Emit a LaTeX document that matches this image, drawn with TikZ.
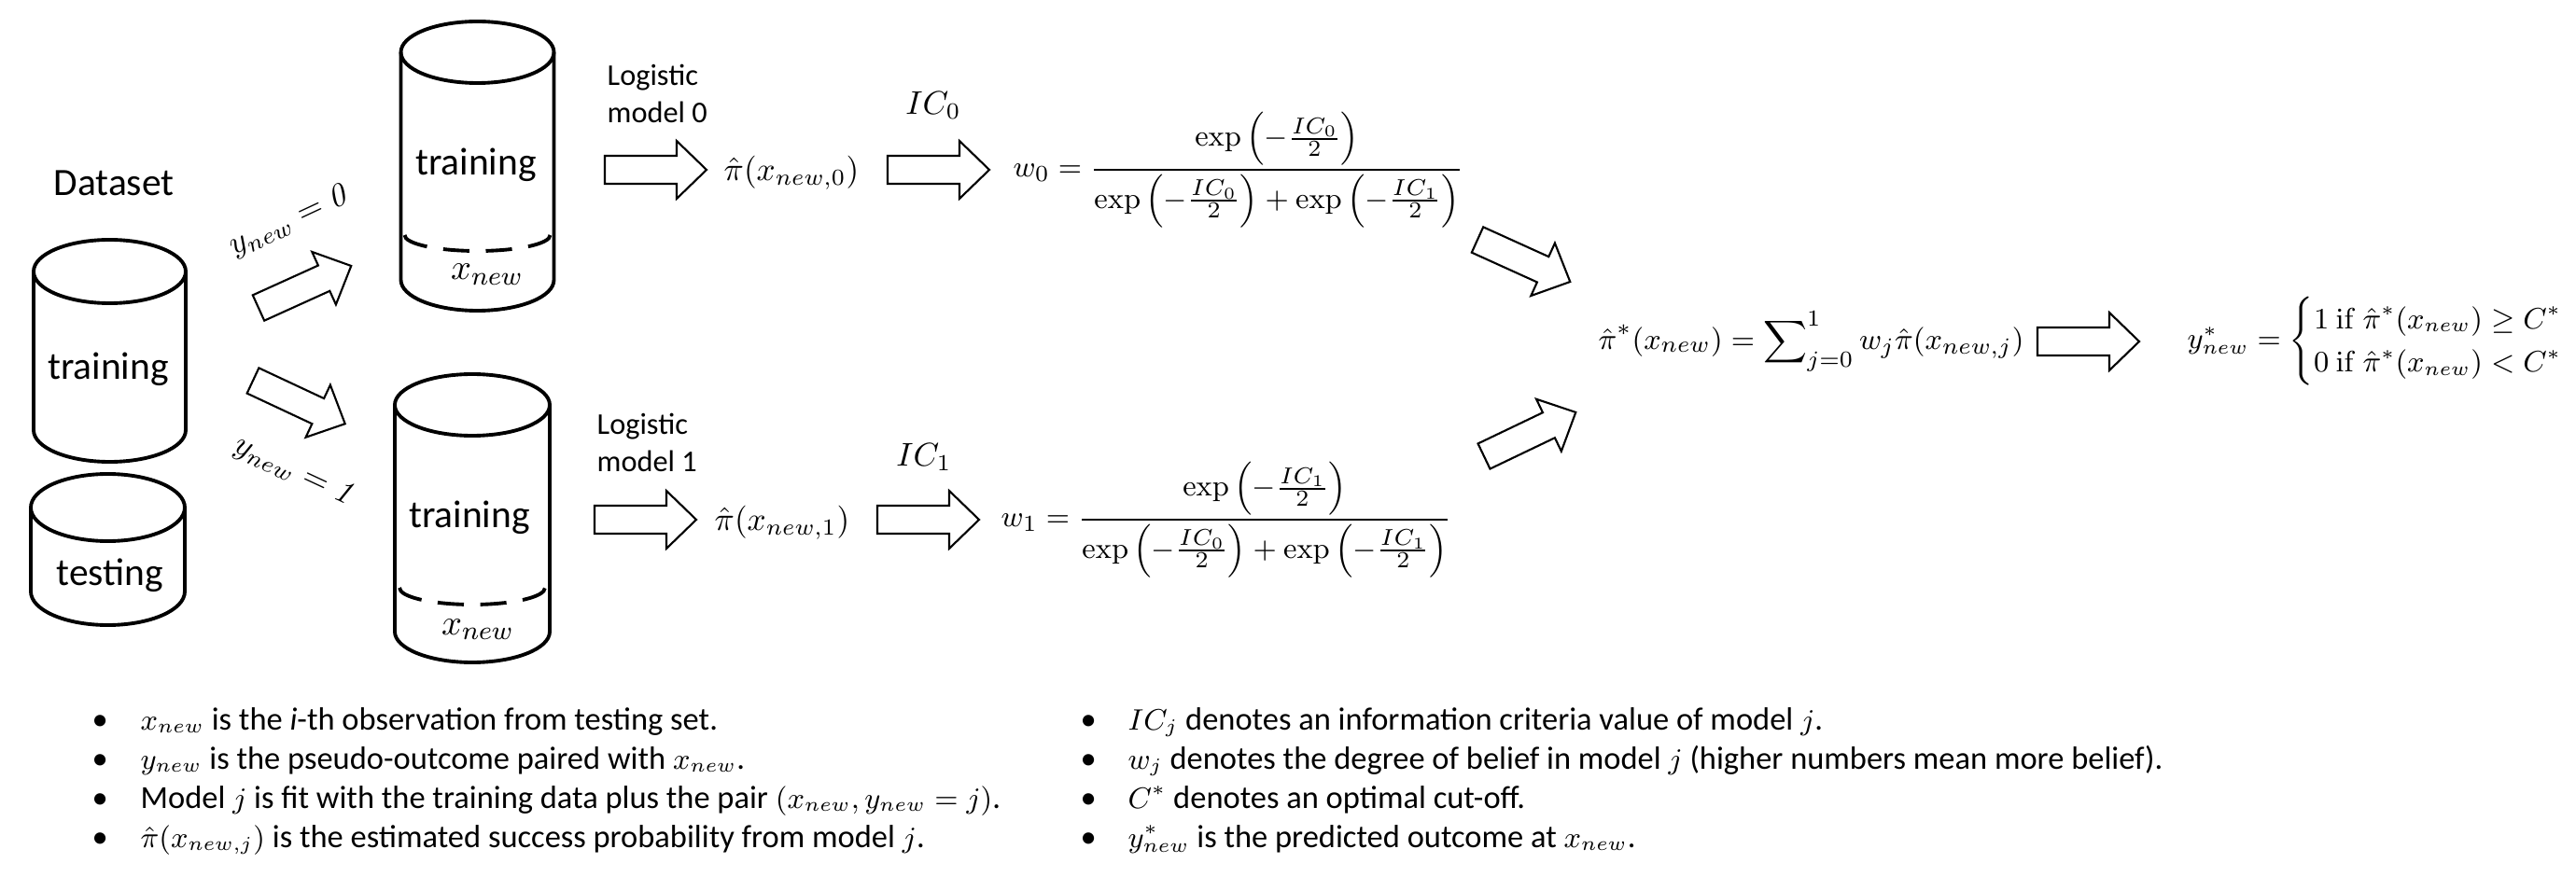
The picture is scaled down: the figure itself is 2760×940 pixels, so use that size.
\documentclass[tikz,border=0pt]{standalone}
\usepackage{amsmath}
\usepackage[no-math]{fontspec}
\setmainfont{Carlito}
\newcommand\mth[1]{{\fontsize{8.6}{10}\selectfont$#1$}}
\begin{document}
\begin{tikzpicture}[x=0.01cm,y=-0.01cm,
  cylline/.style={line width=1.1pt},
  dashline/.style={line width=1.1pt, dash pattern=on 8pt off 5pt},
  arrline/.style={line width=0.6pt, line join=miter},
  big/.style={font=\fontsize{11.8}{14}\selectfont, inner sep=0pt},
  small/.style={font=\fontsize{9.2}{11.4}\selectfont, inner sep=0pt, anchor=base west},
  fml/.style={font=\fontsize{10}{12}\selectfont, inner sep=0pt},
  bul/.style={font=\fontsize{9.8}{11}\selectfont, inner sep=0pt, anchor=base west},
  blockarrow/.pic={\draw[arrline] (0,-15) -- (77,-15) -- (77,-31) -- (109,0) -- (77,31) -- (77,15) -- (0,15) -- cycle;}
]
\useasboundingbox (0,0) rectangle (2760,940);

% ---------- cylinders ----------
% dataset training
\draw[cylline] (117.5,291) ellipse [x radius=81.5, y radius=34];
\draw[cylline] (36,291) -- (36,461) arc[start angle=180, end angle=0, x radius=81.5, y radius=34] -- (199,291);
% dataset testing
\draw[cylline] (115.5,544) ellipse [x radius=82.5, y radius=36];
\draw[cylline] (33,544) -- (33,634) arc[start angle=180, end angle=0, x radius=82.5, y radius=36] -- (198,544);
% model 0 data
\draw[cylline] (511.5,56) ellipse [x radius=82, y radius=33];
\draw[cylline] (429.5,56) -- (429.5,300) arc[start angle=180, end angle=0, x radius=82, y radius=33] -- (593.5,56);
\draw[dashline] (433.5,252) arc[start angle=180, end angle=0, x radius=78, y radius=17];
% model 1 data
\draw[cylline] (506,434) ellipse [x radius=83, y radius=33];
\draw[cylline] (423,434) -- (423,677) arc[start angle=180, end angle=0, x radius=83, y radius=33] -- (589,434);
\draw[dashline] (428,630) arc[start angle=180, end angle=0, x radius=78, y radius=18];

% ---------- texts ----------
\node[big, anchor=base] (dataset) at (122,210) {Dataset};
\node[big, anchor=base] (tr) at (116,407) {training};
\node[big, anchor=base] (te) at (118,627) {testing};
\node[big, anchor=base] (tr0) at (510,188) {training};
\node[fml, anchor=base, font=\fontsize{11}{13}\selectfont] (xn0) at (522,300) {$x_{new}$};
\node[big, anchor=base] (tr1) at (503,565) {training};
\node[fml, anchor=base, font=\fontsize{11}{13}\selectfont] (xn1) at (512,680) {$x_{new}$};

\node[fml, rotate=25] (y0) at (311,237) {$y_{new}=\mathit{0}$};
\node[fml, rotate=-25] (y1) at (316,506) {$y_{new}=\mathit{1}$};

\node[small] (lm0a) at (650,92) {Logistic};
\node[small] (lm0b) at (650,132) {model 0};
\node[small] (lm1a) at (639,466) {Logistic};
\node[small] (lm1b) at (639,506) {model 1};

\node[fml] (p0) at (848,185) {$\hat{\pi}(x_{new,0})$};
\node[fml] (p1) at (838,560) {$\hat{\pi}(x_{new,1})$};
\node[fml] (ic0) at (1000,113) {$IC_0$};
\node[fml] (ic1) at (990,490) {$IC_1$};

\node[fml, anchor=west, font=\fontsize{9.4}{11}\selectfont] (w0) at (1085,182) {$w_0=\dfrac{\exp\left(-\frac{IC_0}{2}\right)}{\exp\left(-\frac{IC_0}{2}\right)+\exp\left(-\frac{IC_1}{2}\right)}$};
\node[fml, anchor=west, font=\fontsize{9.4}{11}\selectfont] (w1) at (1072,557) {$w_1=\dfrac{\exp\left(-\frac{IC_1}{2}\right)}{\exp\left(-\frac{IC_0}{2}\right)+\exp\left(-\frac{IC_1}{2}\right)}$};

\node[fml, anchor=west, font=\fontsize{9.3}{11}\selectfont] (sum) at (1712,366) {$\displaystyle\hat{\pi}^*(x_{new})=\sum\nolimits_{j=0}^{1} w_j\hat{\pi}(x_{new,j})$};
\node[fml, anchor=west, font=\fontsize{9.2}{11}\selectfont] (ys) at (2343,366) {$y^*_{new}=\begin{cases}1\ \mathrm{if}\ \hat{\pi}^*(x_{new})\geq C^*\\ 0\ \mathrm{if}\ \hat{\pi}^*(x_{new})<C^*\end{cases}$};

% ---------- block arrows ----------
\pic[rotate=24.4] at (277,330) {blockarrow};
\pic[rotate=-25.1] at (271,408) {blockarrow};
\pic at (648,182) {blockarrow};
\pic at (951,182) {blockarrow};
\pic at (637,557) {blockarrow};
\pic at (940,557) {blockarrow};
\pic[rotate=-24.4] at (1583,257) {blockarrow};
\pic[rotate=25.6] at (1590,489) {blockarrow};
\pic at (2183,366) {blockarrow};

% ---------- notes ----------
\node[bul] (b1) at (98,782) {\makebox[0.52cm][l]{\textbullet}\mth{x_{new}} is the \textit{i}-th observation from testing set.};
\node[bul] (b2) at (98,824) {\makebox[0.52cm][l]{\textbullet}\mth{y_{new}} is the pseudo-outcome paired with \mth{x_{new}}.};
\node[bul] (b3) at (98,866) {\makebox[0.52cm][l]{\textbullet}Model \mth{j} is fit with the training data plus the pair \mth{(x_{new},y_{new}=j)}.};
\node[bul] (b4) at (98,908) {\makebox[0.52cm][l]{\textbullet}\mth{\hat{\pi}(x_{new,j})} is the estimated success probability from model \mth{j}.};
\node[bul] (c1) at (1157,782) {\makebox[0.51cm][l]{\textbullet}\mth{IC_j} denotes an information criteria value of model \mth{j}.};
\node[bul] (c2) at (1157,824) {\makebox[0.51cm][l]{\textbullet}\mth{w_j} denotes the degree of belief in model \mth{j} (higher numbers mean more belief).};
\node[bul] (c3) at (1157,866) {\makebox[0.51cm][l]{\textbullet}\mth{C^*} denotes an optimal cut-off.};
\node[bul] (c4) at (1157,908) {\makebox[0.51cm][l]{\textbullet}\mth{y^*_{new}} is the predicted outcome at \mth{x_{new}}.};
\end{tikzpicture}
\end{document}
